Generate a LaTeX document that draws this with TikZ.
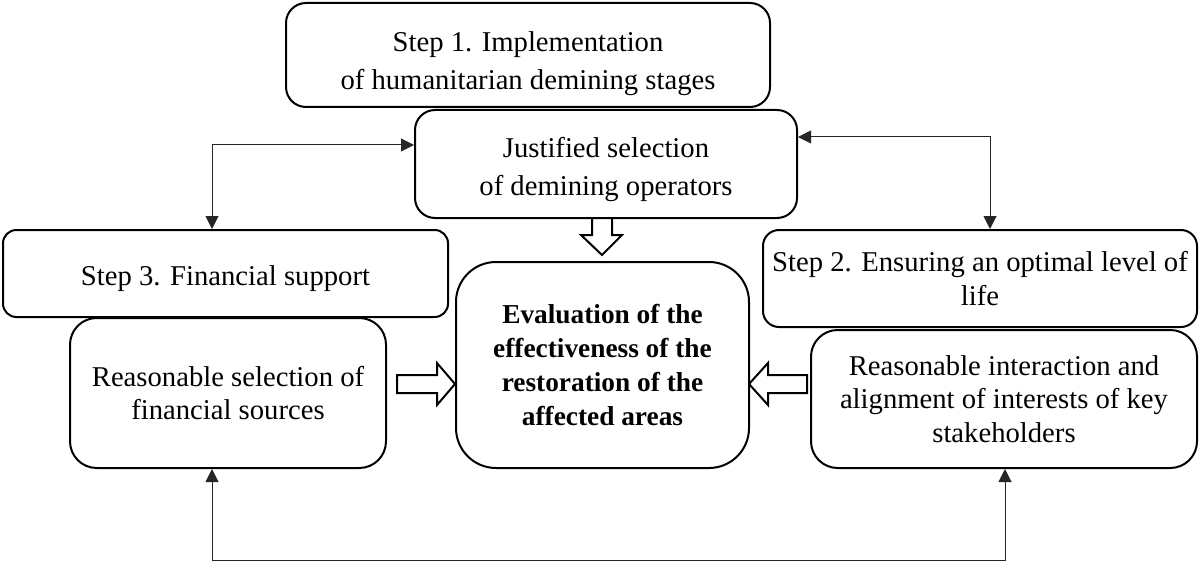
\documentclass[tikz,border=0pt]{standalone}
\usepackage{fontspec}
\setmainfont{Liberation Serif}
\usetikzlibrary{arrows.meta}
\tikzset{
  box/.style={draw=black, line width=1.5pt, inner sep=0pt, align=center,
    font=\fontsize{21.5pt}{25pt}\selectfont},
  wide/.style={font=\fontsize{21.5pt}{28.5pt}\selectfont},
  conn/.style={draw=black!85, line width=0.75pt,
    {Triangle[length=9.75pt,width=9.75pt]}-{Triangle[length=9.75pt,width=9.75pt]}},
  hollow/.style={draw=black, line width=1.5pt, fill=white, line join=miter}
}
\begin{document}
\begin{tikzpicture}[x=0.75pt,y=-0.75pt]
\useasboundingbox (0,0) rectangle (1199,563);
\node[box, wide, rounded corners=15pt, minimum width=363pt, minimum height=78pt] (step1) at (528,55)
  {\rule{0pt}{28pt}Step 1. Implementation\\of humanitarian demining stages};
\node[box, wide, rounded corners=15pt, minimum width=286.5pt, minimum height=81pt] (just) at (606,164)
  {\rule{0pt}{23pt}Justified selection\\of demining operators};
\node[box, rounded corners=10pt, minimum width=333.75pt, minimum height=65.25pt] (step3) at (225.5,273.5)
  {\rule{0pt}{22pt}Step 3. Financial support};
\node[box, rounded corners=20pt, minimum width=237pt, minimum height=112.5pt] (rsel) at (228,393)
  {Reasonable selection of\\financial sources};
\node[box, rounded corners=30pt, minimum width=219.75pt, minimum height=154.5pt,
  font=\bfseries\fontsize{20.5pt}{25.5pt}\selectfont] (eval) at (602.5,365)
  {Evaluation of the\\effectiveness of the\\restoration of the\\affected areas};
\node[box, rounded corners=12pt, minimum width=325.5pt, minimum height=72.75pt] (step2) at (980,278.5)
  {Step 2. Ensuring an optimal level of\\life};
\node[box, rounded corners=20pt, minimum width=289.5pt, minimum height=103.5pt] (rint) at (1004,399)
  {Reasonable interaction and\\alignment of interests of key\\stakeholders};
% thin connectors
\coordinate (tl) at (212,145);
\coordinate (tr) at (990,137);
\coordinate (bl) at (212,560);
\coordinate (br) at (1005,560);
\draw[conn] (step3.north -| tl) |- (just.west |- tl);
\draw[conn] (just.east |- tr) -| (step2.north -| tr);
\draw[conn] (rsel.south -| bl) -- (bl) -- (br) -- (rint.south -| br);
% hollow block arrows
\draw[hollow] (592,218) -- (612,218) -- (612,235) -- (622,235) -- (602,255) -- (581,235) -- (592,235) -- cycle;
\draw[hollow] (397,375) -- (437,375) -- (437,363) -- (455,384) -- (437,405) -- (437,393) -- (397,393) -- cycle;
\draw[hollow] (807,375) -- (768,375) -- (768,363) -- (749,384) -- (768,405) -- (768,393) -- (807,393) -- cycle;
\end{tikzpicture}
\end{document}
